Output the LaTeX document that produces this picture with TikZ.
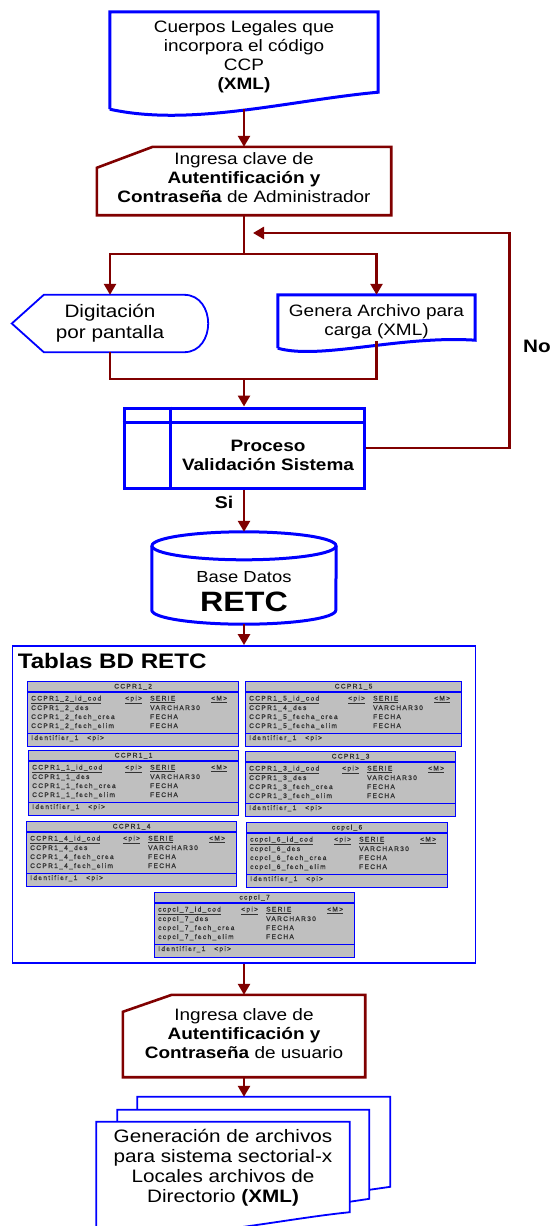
\documentclass[tikz,border=0pt]{standalone}
\usepackage{fontspec}
\setmainfont{Liberation Sans}[FakeStretch=1.15]
\newfontfamily\tblfont{Liberation Sans}[LetterSpace=20, FakeBold=1.2]
\usepackage{tikz}
\usetikzlibrary{arrows.meta, calc, positioning}
\definecolor{cblue}{rgb}{0,0,1}
\definecolor{cred}{rgb}{0.5,0,0}
\definecolor{cgray}{rgb}{0.75,0.75,0.75}
\tikzset{
Flow/.style={
	draw=cred,
	line width=2.6pt
},
Arrow/.style={
	Flow,
	-{Triangle[width=12pt,length=11pt]}
},
Block/.style={
	inner sep=0pt,
	align=center,
	font=\fontsize{16.5}{19}\selectfont
},
BlueLine/.style={
	draw=cblue,
	line width=3pt
},
ThinBlue/.style={
	draw=cblue,
	line width=1.8pt
},
RedLine/.style={
	draw=cred,
	line width=2.6pt
},
Tag/.style={
	inner sep=0pt,
	font=\fontsize{17}{20}\selectfont\bfseries
},
Tabla/.style={
	draw=cblue,
	line width=1.2pt,
	fill=cgray,
	minimum height=65pt,
	inner sep=0pt
},
TablaLine/.style={
	draw=cblue,
	line width=1.2pt
},
TablaTxt/.style={
	inner sep=0pt,
	anchor=base west,
	text=black!80,
	font=\tblfont\fontsize{6.6}{7}\selectfont
}
}
\newcommand{\tabla}[9]{%
	\node[Tabla, minimum width=#4pt, anchor=north west] (#1) at (#2,#3) {};
	\draw[TablaLine] ($(#1.north west)+(0,11)$) -- ++(#4,0);
	\draw[TablaLine] ($(#1.south west)+(0,-14)$) -- ++(#4,0);
	\node[TablaTxt, anchor=base] (#1-t) at ($(#1.north)+(0,7.5)$) {#5};
	\node[TablaTxt] (#1-a) at ($(#1.north west)+(4,19.5)$) {\underline{#6}};
	\node[TablaTxt] (#1-pi) at ($(#1.north west)+(#4-113,19.5)$) {\underline{<pi>}};
	\node[TablaTxt] (#1-s) at ($(#1.north west)+(#4-88,19.5)$) {\underline{SERIE}};
	\node[TablaTxt] (#1-m) at ($(#1.north west)+(#4-27,19.5)$) {\underline{<M>}};
	\node[TablaTxt] (#1-b) at ($(#1.north west)+(4,29)$) {#7};
	\node[TablaTxt] (#1-bt) at ($(#1.north west)+(#4-88,29)$) {VARCHAR30};
	\node[TablaTxt] (#1-c) at ($(#1.north west)+(4,38)$) {#8};
	\node[TablaTxt] (#1-ct) at ($(#1.north west)+(#4-88,38)$) {FECHA};
	\node[TablaTxt] (#1-d) at ($(#1.north west)+(4,47)$) {#9};
	\node[TablaTxt] (#1-dt) at ($(#1.north west)+(#4-88,47)$) {FECHA};
	\node[TablaTxt] (#1-id) at ($(#1.north west)+(4,59)$) {Identifier\_1};
	\node[TablaTxt] (#1-ip) at ($(#1.north west)+(60,59)$) {<pi>};
}

\begin{document}
\begin{tikzpicture}[x=1pt, y=-1pt]
	\clip (0,0) rectangle (554,1226);
	\fill[white] (0,0) rectangle (554,1226);

	\node[Block, minimum width=268pt, minimum height=97pt, text depth=10pt] (cuerpos) at (244,60.5) {Cuerpos Legales que\\incorpora el código\\CCP\\\textbf{(XML)}};
	\node[Block, minimum width=294pt, minimum height=68pt, text depth=6pt] (adm) at (244,181) {Ingresa clave de\\\textbf{Autentificación y}\\\textbf{Contraseña} de Administrador};
	\node[Block, font=\fontsize{18}{21}\selectfont, minimum width=196pt, minimum height=57pt] (dig) at (110,323.5) {Digitación\\por pantalla};
	\node[Block, minimum width=197pt, minimum height=53pt] (gen) at (376.5,321.5) {Genera Archivo para\\carga (XML)};
	\node[draw=cblue, line width=3pt, minimum width=240pt, minimum height=80pt] (proc) at (244,448) {};
	\node[Block, font=\fontsize{16.5}{19}\selectfont\bfseries] (proctxt) at ($(proc.center)+(24,7)$) {Proceso\\Validación Sistema};
	\node[minimum width=184pt, minimum height=92pt] (db) at (244,578) {};
	\node[Block, font=\fontsize{16}{19}\selectfont] (dbtop) at (244,577) {Base Datos};
	\node[Block, font=\fontsize{28}{30}\selectfont\bfseries] (dbname) at (244,602) {RETC};
	\node[ThinBlue, minimum width=463pt, minimum height=317pt] (tablas) at (244,804.5) {};
	\node[Tag, anchor=west, font=\fontsize{21}{24}\selectfont\bfseries] (tabtit) at ($(tablas.north west)+(6,16)$) {Tablas BD RETC};
	\node[Block, minimum width=242pt, minimum height=82pt, text depth=4pt] (usr) at (244,1036) {Ingresa clave de\\\textbf{Autentificación y}\\\textbf{Contraseña} de usuario};
	\node[Block, font=\fontsize{18}{20}\selectfont, minimum width=253pt, minimum height=92pt] (archivos) at (223,1168) {Generación de archivos\\para sistema sectorial-x\\Locales archivos de\\Directorio \textbf{(XML)}};

	\draw[BlueLine] (cuerpos.south west) -- (cuerpos.north west) -- (cuerpos.north east) -- ($(cuerpos.south east)+(0,-17)$) .. controls +(-88,8) and +(81,18) .. (cuerpos.south west);
	\draw[RedLine] ($(adm.north west)+(56,0)$) -- (adm.north east) -- (adm.south east) -- (adm.south west) -- ($(adm.north west)+(0,21)$) -- cycle;
	\draw[ThinBlue] (dig.west) -- ($(dig.north west)+(32,0)$) -- ($(dig.north east)+(-24,0)$) .. controls +(16,0) and +(0,-14) .. (dig.east) .. controls +(0,14) and +(16,0) .. ($(dig.south east)+(-24,0)$) -- ($(dig.south west)+(32,0)$) -- cycle;
	\draw[BlueLine] (gen.south west) -- (gen.north west) -- (gen.north east) -- ($(gen.south east)+(0,-8)$) .. controls +(-75,-5) and +(42,12) .. (gen.south west);
	\draw[BlueLine] ($(proc.north west)+(0,16)$) -- ($(proc.north east)+(0,16)$);
	\draw[BlueLine] ($(proc.north west)+(48,0)$) -- ($(proc.south west)+(48,0)$);
	\draw[BlueLine] ($(db.north)+(0,14)$) ellipse [x radius=92pt, y radius=14pt];
	\draw[BlueLine] ($(db.north west)+(0,14)$) -- ($(db.south west)+(0,-14)$) arc [start angle=180, end angle=360, x radius=92pt, y radius=14pt] -- ($(db.north east)+(0,14)$);
	\draw[RedLine] ($(usr.north west)+(49,0)$) -- (usr.north east) -- (usr.south east) -- (usr.south west) -- ($(usr.north west)+(0,17)$) -- cycle;
	\draw[ThinBlue] (archivos.north east) -- ($(archivos.south east)+(0,-2)$) .. controls +(-79,8) and +(74,16) .. ($(archivos.south west)+(0,15)$) -- (archivos.north west) -- cycle;
	\draw[ThinBlue] ($(archivos.north west)+(21,0)$) -- ++(0,-12) -- ++(252,0) -- ++(0,89) -- ++(-20,3);
	\draw[ThinBlue] ($(archivos.north west)+(41,-12)$) -- ++(0,-13) -- ++(253,0) -- ++(0,90) -- ++(-21,3);

	\tabla{t2}{27}{681}{211}{CCPR1\_2}{CCPR1\_2\_id\_cod}{CCPR1\_2\_des}{CCPR1\_2\_fech\_crea}{CCPR1\_2\_fech\_elim}
	\tabla{t5}{245}{681}{216}{CCPR1\_5}{CCPR1\_5\_id\_cod}{CCPR1\_4\_des}{CCPR1\_5\_fecha\_crea}{CCPR1\_5\_fecha\_elim}
	\tabla{t1}{28}{750}{210}{CCPR1\_1}{CCPR1\_1\_id\_cod}{CCPR1\_1\_des}{CCPR1\_1\_fech\_crea}{CCPR1\_1\_fech\_elim}
	\tabla{t3}{245}{751}{210}{CCPR1\_3}{CCPR1\_3\_id\_cod}{CCPR1\_3\_des}{CCPR1\_3\_fech\_crea}{CCPR1\_3\_fech\_elim}
	\tabla{t4}{26}{821}{210}{CCPR1\_4}{CCPR1\_4\_id\_cod}{CCPR1\_4\_des}{CCPR1\_4\_fech\_crea}{CCPR1\_4\_fech\_elim}
	\tabla{t6}{246}{822}{201}{ccpcl\_6}{ccpcl\_6\_id\_cod}{ccpcl\_6\_des}{ccpcl\_6\_fech\_crea}{ccpcl\_6\_fech\_elim}
	\tabla{t7}{154}{892}{200}{ccpcl\_7}{ccpcl\_7\_id\_cod}{ccpcl\_7\_des}{ccpcl\_7\_fech\_crea}{ccpcl\_7\_fech\_elim}

	\coordinate (split) at (244,254);
	\coordinate (merge) at (244,379);
	\coordinate (retorno) at (253,233);
	\draw[Arrow] (cuerpos.south) -- (adm.north);
	\draw[Flow] (adm.south) -- (split);
	\draw[Arrow] (split) -| (dig.north);
	\draw[Arrow] (split) -| (gen.north);
	\draw[Flow] (dig.south) |- (merge) -| ($(gen.south)+(0,-7)$);
	\draw[Arrow] (merge) -- (proc.north);
	\draw[Arrow] (proc.east) -- ++(144,0) |- (retorno);
	\draw[Arrow] (proc.south) -- (db.north);
	\draw[Arrow] (db.south) -- (tablas.north);
	\draw[Arrow] (tablas.south) -- (usr.north);
	\draw[Arrow] (usr.south) -- ($(archivos.north)+(21,-25)$);

	\node[Tag] (si) at (224,502) {Si};
	\node[Tag, font=\fontsize{18}{21}\selectfont\bfseries] (no) at (537,346) {No};
\end{tikzpicture}
\end{document}
